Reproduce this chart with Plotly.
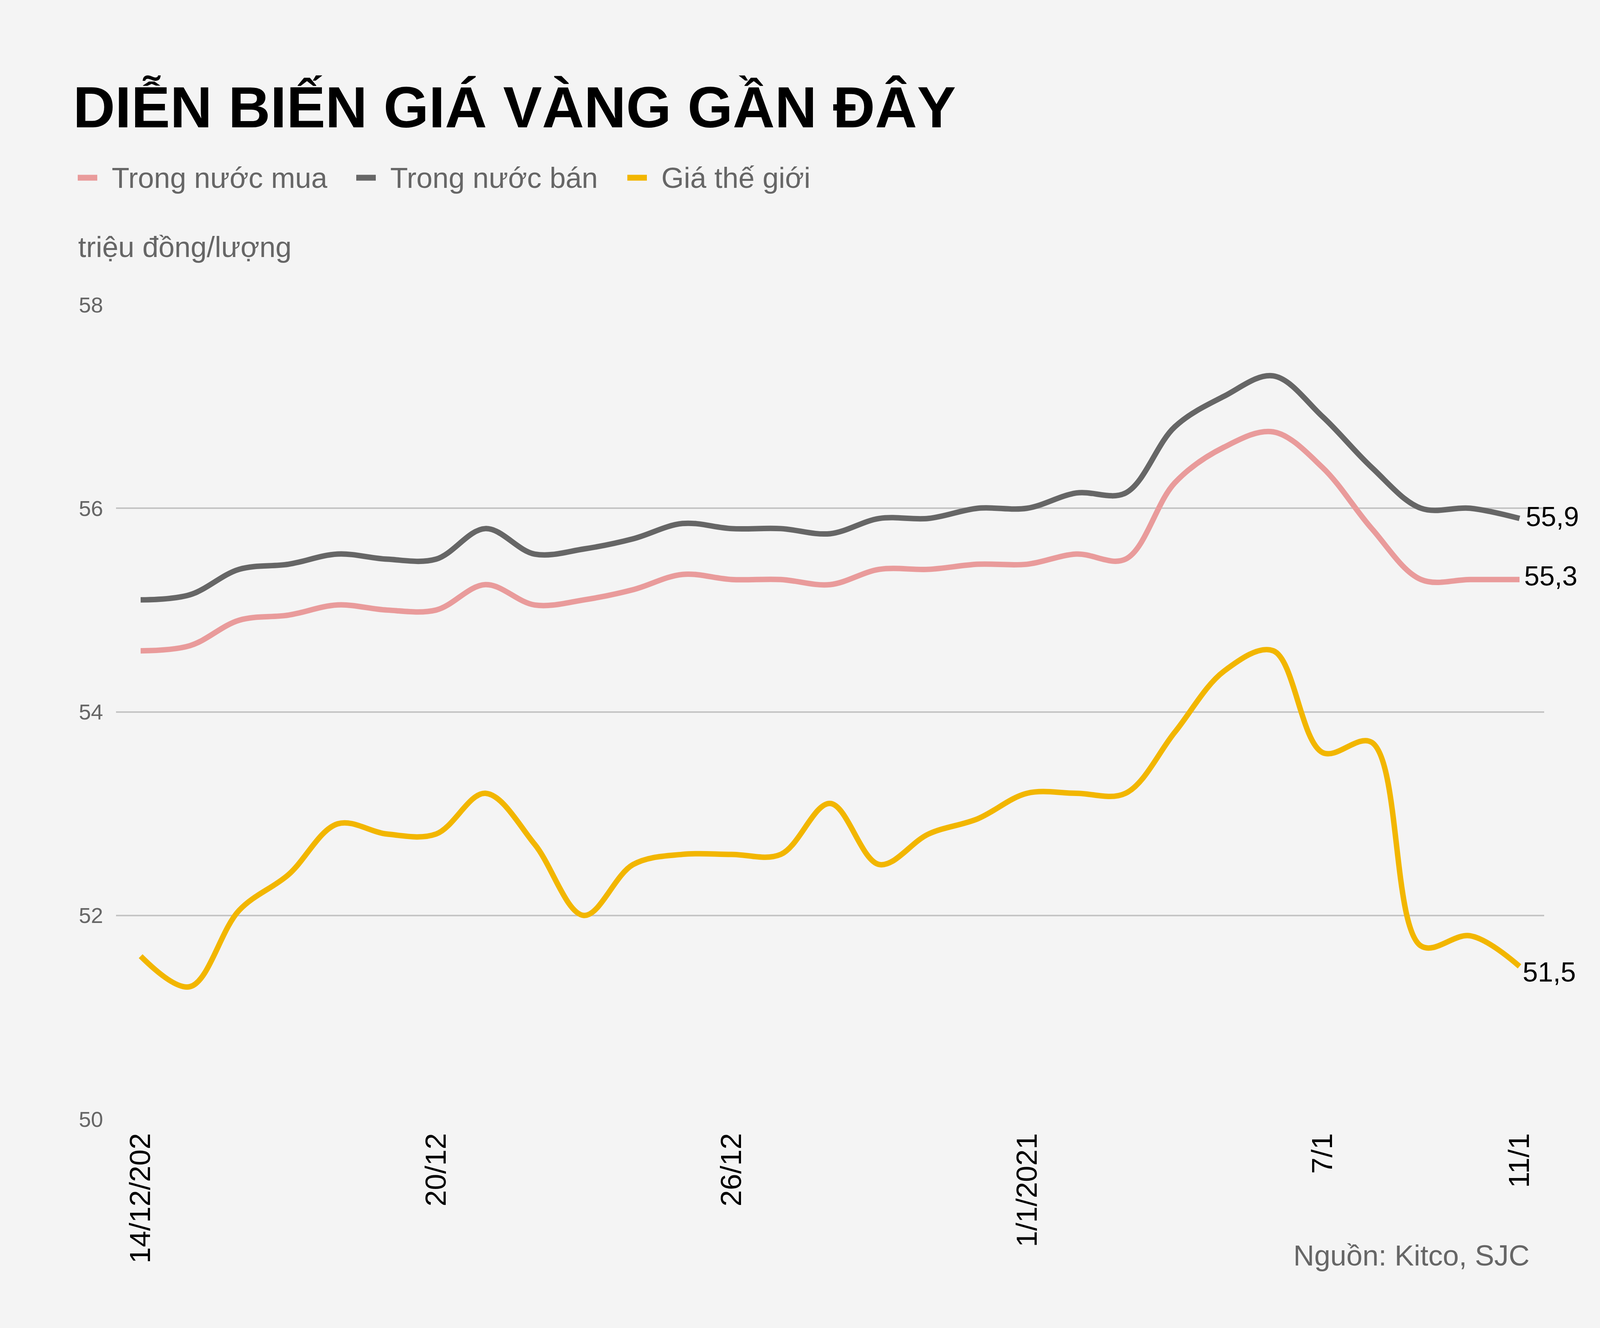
import plotly.graph_objects as go

# ---- data ----
dates = ["14/12", "15/12", "16/12", "17/12", "18/12", "19/12", "20/12", "21/12", "22/12",
         "23/12", "24/12", "25/12", "26/12", "27/12", "28/12", "29/12", "30/12", "31/12",
         "1/1", "2/1", "3/1", "4/1", "5/1", "6/1", "7/1", "8/1", "9/1", "10/1", "11/1"]

trong_nuoc_mua = [54.60, 54.65, 54.90, 54.95, 55.05, 55.00, 55.00, 55.25, 55.05, 55.10,
                  55.20, 55.35, 55.30, 55.30, 55.25, 55.40, 55.40, 55.45, 55.45, 55.55,
                  55.50, 56.25, 56.60, 56.75, 56.40, 55.80, 55.30, 55.30, 55.30]

trong_nuoc_ban = [55.10, 55.15, 55.40, 55.45, 55.55, 55.50, 55.50, 55.80, 55.55, 55.60,
                  55.70, 55.85, 55.80, 55.80, 55.75, 55.90, 55.90, 56.00, 56.00, 56.15,
                  56.15, 56.80, 57.10, 57.30, 56.90, 56.40, 56.00, 56.00, 55.90]

gia_the_gioi = [51.60, 51.30, 52.05, 52.40, 52.90, 52.80, 52.80, 53.20, 52.70, 52.00,
                52.50, 52.60, 52.60, 52.60, 53.10, 52.50, 52.80, 52.95, 53.20, 53.20,
                53.20, 53.80, 54.40, 54.60, 53.60, 53.70, 51.70, 51.80, 51.50]

tick_vals = ["14/12", "20/12", "26/12", "1/1", "7/1", "11/1"]
tick_text = ["14/12/202", "20/12", "26/12", "1/1/2021", "7/1", "11/1"]
y_ticks = [50, 52, 54, 56, 58]

series = [
    ("Trong nước mua", trong_nuoc_mua, "#E99B9B"),
    ("Trong nước bán", trong_nuoc_ban, "#666666"),
    ("Giá thế giới", gia_the_gioi, "#F2B600"),
]

FONT = "Liberation Sans, Arial, sans-serif"
W, H = 4175, 3400
L, R, T, B = 297, 222, 780, 535
PW, PH = W - L - R, H - T - B


def px_x(px):
    return (px - L) / PW


def px_y(py):
    return (H - B - py) / PH


fig = go.Figure()
for name, vals, color in series:
    fig.add_trace(go.Scatter(
        x=dates, y=vals, name=name, mode="lines",
        line=dict(color=color, width=14, shape="spline", smoothing=1.0),
        hoverinfo="skip", showlegend=False,
    ))

# end labels
label_shifts = {"Trong nước mua": (10, 9), "Trong nước bán": (14, 4), "Giá thế giới": (6, -15)}
annotations = []
for name, vals, color in series:
    xs, ys = label_shifts[name]
    annotations.append(dict(
        x=dates[-1], y=vals[-1], xref="x", yref="y",
        text=f"{vals[-1]:.1f}".replace(".", ","),
        showarrow=False, xanchor="left", yanchor="middle",
        xshift=xs, yshift=ys,
        font=dict(family=FONT, size=70, color="#000000"),
    ))

# legend (swatch + label), laid out as in the original graphic
legend_pos = [(199, 284), (912, 997), (1606, 1691)]
legend_y = 455
shapes = []
for (name, vals, color), (sx, tx) in zip(series, legend_pos):
    shapes.append(dict(type="line", xref="paper", yref="paper",
                       x0=px_x(sx), x1=px_x(sx + 50), y0=px_y(legend_y), y1=px_y(legend_y),
                       line=dict(color=color, width=15)))
    annotations.append(dict(text=name, x=px_x(tx), y=px_y(legend_y), xref="paper", yref="paper",
                            xanchor="left", yanchor="middle", showarrow=False,
                            font=dict(family=FONT, size=74, color="#666666")))

annotations += [
    dict(text="DIỄN BIẾN GIÁ VÀNG GẦN ĐÂY", x=px_x(185), y=px_y(275),
         xref="paper", yref="paper", xanchor="left", yanchor="middle", showarrow=False,
         font=dict(family=FONT, size=149, color="#000000", weight="bold")),
    dict(text="triệu đồng/lượng", x=px_x(198), y=px_y(632),
         xref="paper", yref="paper", xanchor="left", yanchor="middle", showarrow=False,
         font=dict(family=FONT, size=74, color="#666666")),
    dict(text="Nguồn: Kitco, SJC", x=px_x(3918), y=px_y(3214),
         xref="paper", yref="paper", xanchor="right", yanchor="middle", showarrow=False,
         font=dict(family=FONT, size=74, color="#666666")),
]

fig.update_layout(
    width=W, height=H, autosize=False,
    margin=dict(l=L, r=R, t=T, b=B, pad=0),
    paper_bgcolor="#F4F4F4", plot_bgcolor="#F4F4F4",
    font=dict(family=FONT, color="#666666"),
    showlegend=False,
    annotations=annotations,
    shapes=shapes,
    xaxis=dict(
        type="category", range=[-0.5, len(dates) - 0.5],
        tickmode="array", tickvals=tick_vals, ticktext=tick_text,
        tickangle=-90, tickfont=dict(family=FONT, size=75, color="#000000"),
        showgrid=False, zeroline=False, showline=False, ticks="",
        ticklabelstandoff=20,
    ),
    yaxis=dict(
        range=[50, 58], tickmode="array", tickvals=y_ticks,
        tickfont=dict(family=FONT, size=56, color="#666666"),
        showgrid=True, gridcolor="#C4C4C4", gridwidth=4,
        zeroline=False, showline=False, ticks="", ticklabelstandoff=32,
    ),
)

fig.write_html(
    "out.html",
    config={"displayModeBar": False, "staticPlot": True},
    post_script="document.body.style.margin='0';document.body.style.background='#F4F4F4';",
)
